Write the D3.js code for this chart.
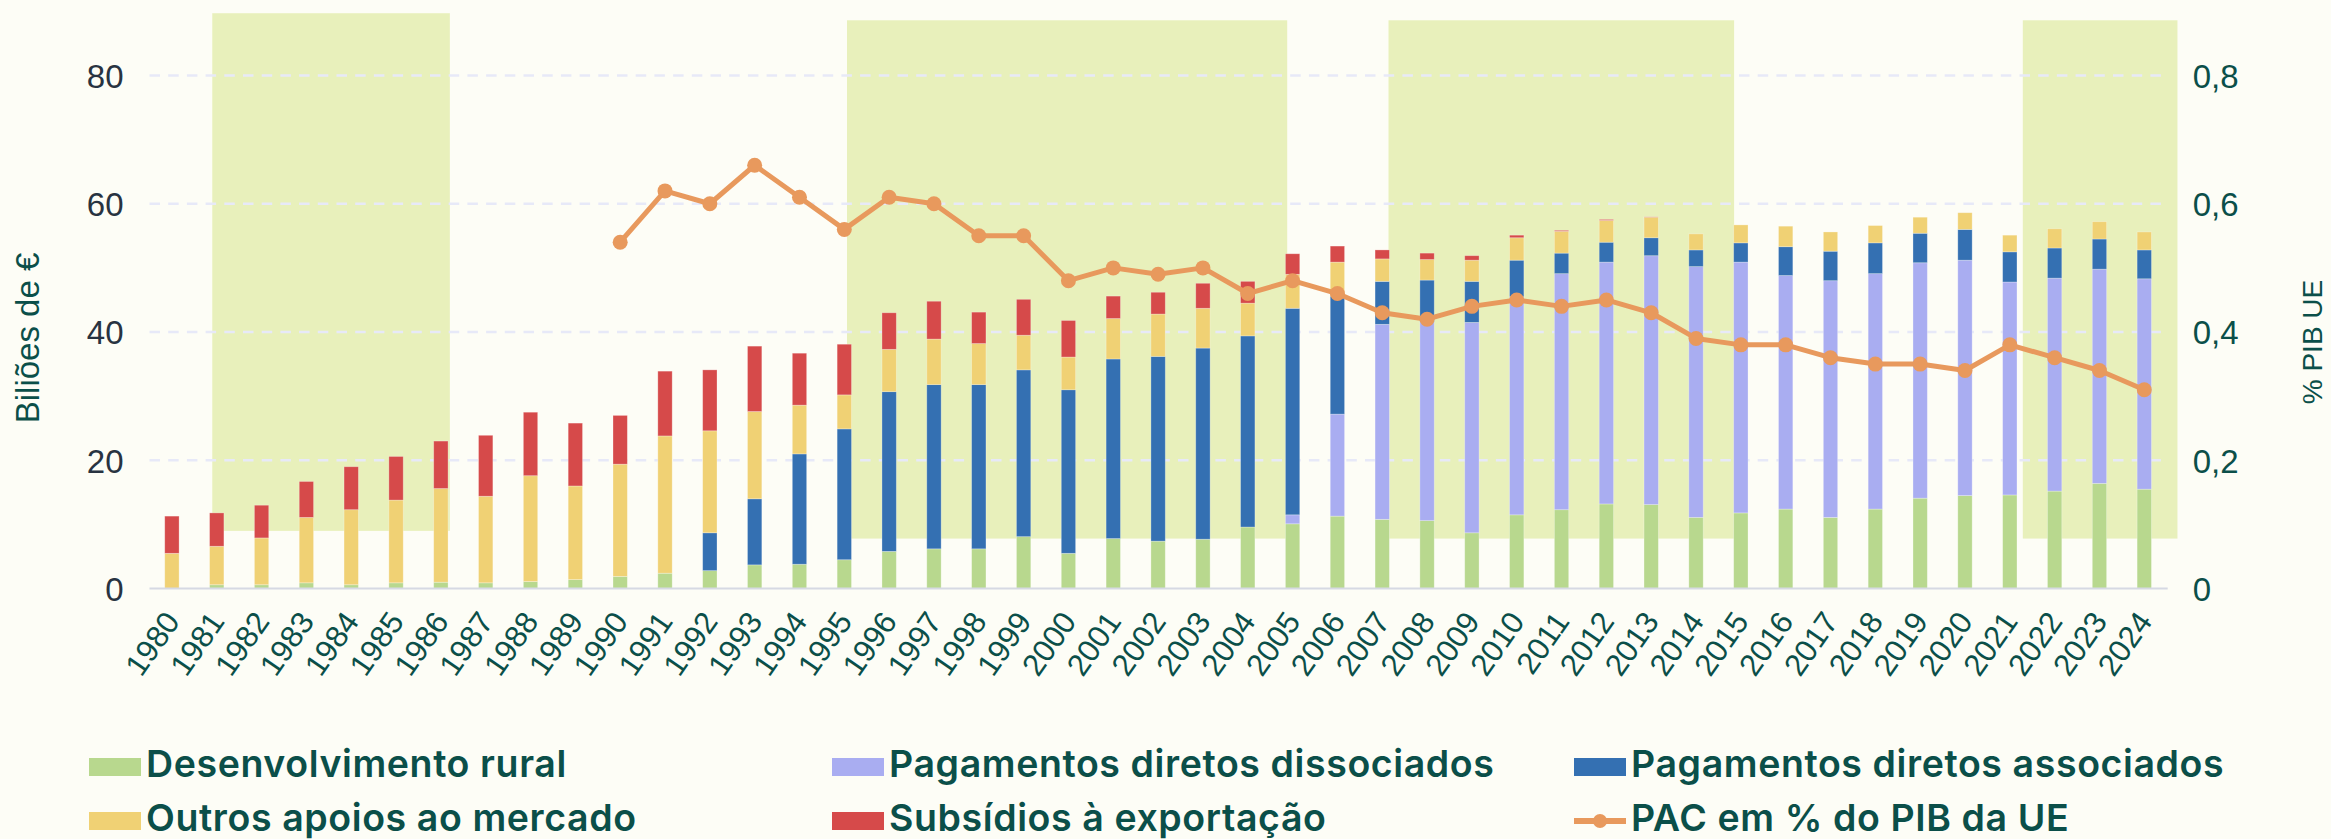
<!DOCTYPE html>
<html><head><meta charset="utf-8">
<script src="https://cdn.jsdelivr.net/npm/d3@7"></script>
<style>
html,body{margin:0;padding:0;background:#fdfdf6;}
svg{display:block;}
</style></head>
<body><div id="chart"></div>
<script>
const years = [1980,1981,1982,1983,1984,1985,1986,1987,1988,1989,1990,1991,1992,1993,1994,1995,1996,1997,1998,1999,2000,2001,2002,2003,2004,2005,2006,2007,2008,2009,2010,2011,2012,2013,2014,2015,2016,2017,2018,2019,2020,2021,2022,2023,2024];
const rural     = [0,0.6,0.6,0.9,0.6,0.9,1.0,0.9,1.1,1.4,1.9,2.4,2.8,3.7,3.8,4.5,5.8,6.2,6.2,8.1,5.5,7.8,7.4,7.7,9.6,10.1,11.3,10.8,10.6,8.7,11.5,12.3,13.2,13.1,11.1,11.8,12.4,11.1,12.4,14.1,14.5,14.6,15.2,16.4,15.5];
const decoupled = [0,0,0,0,0,0,0,0,0,0,0,0,0,0,0,0,0,0,0,0,0,0,0,0,0,1.4,15.9,30.4,30.9,32.8,34.0,36.8,37.7,38.8,39.1,39.1,36.4,36.9,36.7,36.7,36.7,33.2,33.2,33.4,32.8];
const coupled   = [0,0,0,0,0,0,0,0,0,0,0,0,5.9,10.3,17.2,20.4,24.9,25.6,25.6,26.0,25.5,28.0,28.8,29.8,29.8,32.2,18.4,6.7,6.6,6.4,5.7,3.2,3.1,2.8,2.6,3.0,4.5,4.6,4.8,4.6,4.8,4.7,4.7,4.7,4.5];
const market    = [5.5,6.0,7.3,10.2,11.7,12.9,14.6,13.5,16.5,14.6,17.5,21.4,15.9,13.6,7.6,5.3,6.6,7.1,6.4,5.4,5.1,6.3,6.6,6.2,5.1,5.3,5.3,3.5,3.2,3.3,3.5,3.4,3.4,3.2,2.5,2.8,3.2,3.0,2.7,2.5,2.6,2.6,3.0,2.7,2.8];
const exportSub = [5.8,5.2,5.1,5.6,6.7,6.8,7.4,9.5,9.9,9.8,7.6,10.1,9.5,10.2,8.1,7.9,5.7,5.9,4.9,5.6,5.7,3.5,3.4,3.9,3.4,3.2,2.5,1.4,1.0,0.7,0.4,0.15,0.15,0.05,0,0,0,0,0,0,0,0,0,0,0];
const pacPct    = [null,null,null,null,null,null,null,null,null,null,0.54,0.62,0.60,0.66,0.61,0.56,0.61,0.60,0.55,0.55,0.48,0.50,0.49,0.50,0.46,0.48,0.46,0.43,0.42,0.44,0.45,0.44,0.45,0.43,0.39,0.38,0.38,0.36,0.35,0.35,0.34,0.38,0.36,0.34,0.31];
const leftTicks  = [0,20,40,60,80];
const rightTicks = [0,0.2,0.4,0.6,0.8];
const periodStart = [1980.9,1995.06,2007.14,2021.29];
const periodEnd   = [1986.2,2004.88,2014.85,2024.74];
const periodLow   = [9.0,7.8,7.8,7.8];
const periodHigh  = [89.7,88.6,88.6,88.6];
const seriesKeys  = ["rural","decoupled","coupled","market","exportSub"];
const seriesNames = ["Desenvolvimento rural","Pagamentos diretos dissociados","Pagamentos diretos associados","Outros apoios ao mercado","Subsídios à exportação"];
const lineName = "PAC em % do PIB da UE";
const leftTitle = "Biliões de €";
const rightTitle = "% PIB UE";

const colors = {rural:"#b8d88e",decoupled:"#a9adf1",coupled:"#3470b2",market:"#f0d174",exportSub:"#d64a4a"};
const lineColor = "#e8995d";
const teal = "#0b4f49";

const W = 2331, H = 839;
const plot = {left:149.5, right:2166.7, top:11.3, bottom:588.6};

const svg = d3.select("#chart").append("svg").attr("width",W).attr("height",H)
  .style("background","#fdfdf6");

const rows = years.map((y,i)=>({year:y,rural:rural[i],decoupled:decoupled[i],coupled:coupled[i],market:market[i],exportSub:exportSub[i],pac:pacPct[i]}));

const x = d3.scaleBand().domain(years).range([plot.left,plot.right]).paddingInner(0.68).paddingOuter(0.34);
const xLin = d3.scaleLinear().domain([years[0]-0.5, years[years.length-1]+0.5]).range([plot.left,plot.right]);
const y = d3.scaleLinear().domain([0,90]).range([plot.bottom,plot.top]);
const y2 = d3.scaleLinear().domain([0,0.9]).range([plot.bottom,plot.top]);

// shaded periods
svg.append("g").selectAll("rect").data(periodStart.map((s,i)=>({s,e:periodEnd[i],lo:periodLow[i],hi:periodHigh[i]})))
  .join("rect")
  .attr("x",d=>xLin(d.s)).attr("width",d=>xLin(d.e)-xLin(d.s))
  .attr("y",d=>y(d.hi)).attr("height",d=>y(d.lo)-y(d.hi))
  .attr("fill","#e8f0bb");

// gridlines
svg.append("g").selectAll("line").data(leftTicks.filter(t=>t>0)).join("line")
  .attr("x1",plot.left).attr("x2",plot.right)
  .attr("y1",d=>y(d)).attr("y2",d=>y(d))
  .attr("stroke","#e7e9f8").attr("stroke-width",2.5).attr("stroke-dasharray","10.5,8.2");

// stacked bars
const stack = d3.stack().keys(seriesKeys)(rows);
svg.append("g").selectAll("g").data(stack).join("g")
  .attr("fill",d=>colors[d.key])
  .selectAll("rect").data(d=>d.filter(p=>p[1]-p[0]>0)).join("rect")
  .attr("x",d=>x(d.data.year)).attr("width",x.bandwidth())
  .attr("y",d=>y(d[1])).attr("height",d=>y(d[0])-y(d[1]))
  .attr("stroke","rgba(255,255,255,0.35)").attr("stroke-width",0.8);

// zero line
svg.append("line").attr("x1",plot.left).attr("x2",plot.right+1)
  .attr("y1",y(0)).attr("y2",y(0)).attr("stroke","#d6d9e3").attr("stroke-width",2);

// line series
const lineData = rows.filter(r=>r.pac!==null);
const line = d3.line().x(d=>x(d.year)+x.bandwidth()/2).y(d=>y2(d.pac));
svg.append("path").datum(lineData).attr("d",line)
  .attr("fill","none").attr("stroke",lineColor).attr("stroke-width",5).attr("stroke-linejoin","round");
svg.append("g").selectAll("circle").data(lineData).join("circle")
  .attr("cx",d=>x(d.year)+x.bandwidth()/2).attr("cy",d=>y2(d.pac)).attr("r",7.5).attr("fill",lineColor);

// left axis
const leftAxis = svg.append("g").attr("transform",`translate(${plot.left-26},0)`)
  .call(d3.axisLeft(y).tickValues(leftTicks).tickSize(0).tickPadding(0).tickFormat(d3.format("d")));
leftAxis.select(".domain").remove();
leftAxis.selectAll("text").attr("font-family","Liberation Sans, Arial, sans-serif").attr("font-size",33)
  .attr("fill","#283341").attr("dy","0.36em");

// right axis
const rightAxis = svg.append("g").attr("transform",`translate(${plot.right+26},0)`)
  .call(d3.axisRight(y2).tickValues(rightTicks).tickSize(0).tickPadding(0).tickFormat(d=>d===0?"0":d3.format(".1f")(d).replace(".",",")));
rightAxis.select(".domain").remove();
rightAxis.selectAll("text").attr("font-family","Liberation Sans, Arial, sans-serif").attr("font-size",33)
  .attr("fill",teal).attr("dy","0.36em");

// x axis
const xAxis = svg.append("g").attr("transform",`translate(0,${plot.bottom})`)
  .call(d3.axisBottom(x).tickSize(0).tickPadding(0));
xAxis.select(".domain").remove();
xAxis.selectAll("text").attr("font-family","Liberation Sans, Arial, sans-serif").attr("font-size",31)
  .attr("fill",teal).attr("text-anchor","end").attr("dy",0).attr("y",0)
  .attr("transform","translate(9,33) rotate(-55)");

// axis titles
svg.append("text").attr("transform",`translate(39,338) rotate(-90)`).attr("text-anchor","middle")
  .attr("font-family","Liberation Sans, Arial, sans-serif").attr("font-size",33).attr("fill",teal).text(leftTitle);
svg.append("text").attr("transform",`translate(2322,342) rotate(-90)`).attr("text-anchor","middle")
  .attr("font-family","Liberation Sans, Arial, sans-serif").attr("font-size",28).attr("fill",teal).text(rightTitle);

// legend
const legendItems = seriesKeys.map((k,i)=>({key:k,name:seriesNames[i]}));
const legPos = [[89,767],[832,767],[1574,767],[89,821],[832,821],[1574,821]];
const leg = svg.append("g");
const entries = [legendItems[0],legendItems[1],legendItems[2],legendItems[3],legendItems[4],{key:"line",name:lineName}];
entries.forEach((e,i)=>{
  const [lx,ly] = legPos[i];
  const g = leg.append("g").attr("transform",`translate(${lx},${ly})`);
  if(e.key==="line"){
    g.append("line").attr("x1",0).attr("x2",52).attr("y1",0).attr("y2",0).attr("stroke",lineColor).attr("stroke-width",6);
    g.append("circle").attr("cx",26).attr("cy",0).attr("r",7).attr("fill",lineColor);
  } else {
    g.append("rect").attr("x",0).attr("y",-9).attr("width",52).attr("height",18).attr("fill",colors[e.key]);
  }
  g.append("text").attr("x",57).attr("y",9.5).attr("font-family","Inter, sans-serif").attr("font-weight",600)
    .attr("font-size",37.5).attr("letter-spacing",0.6).attr("fill",teal).text(e.name);
});
</script></body></html>
